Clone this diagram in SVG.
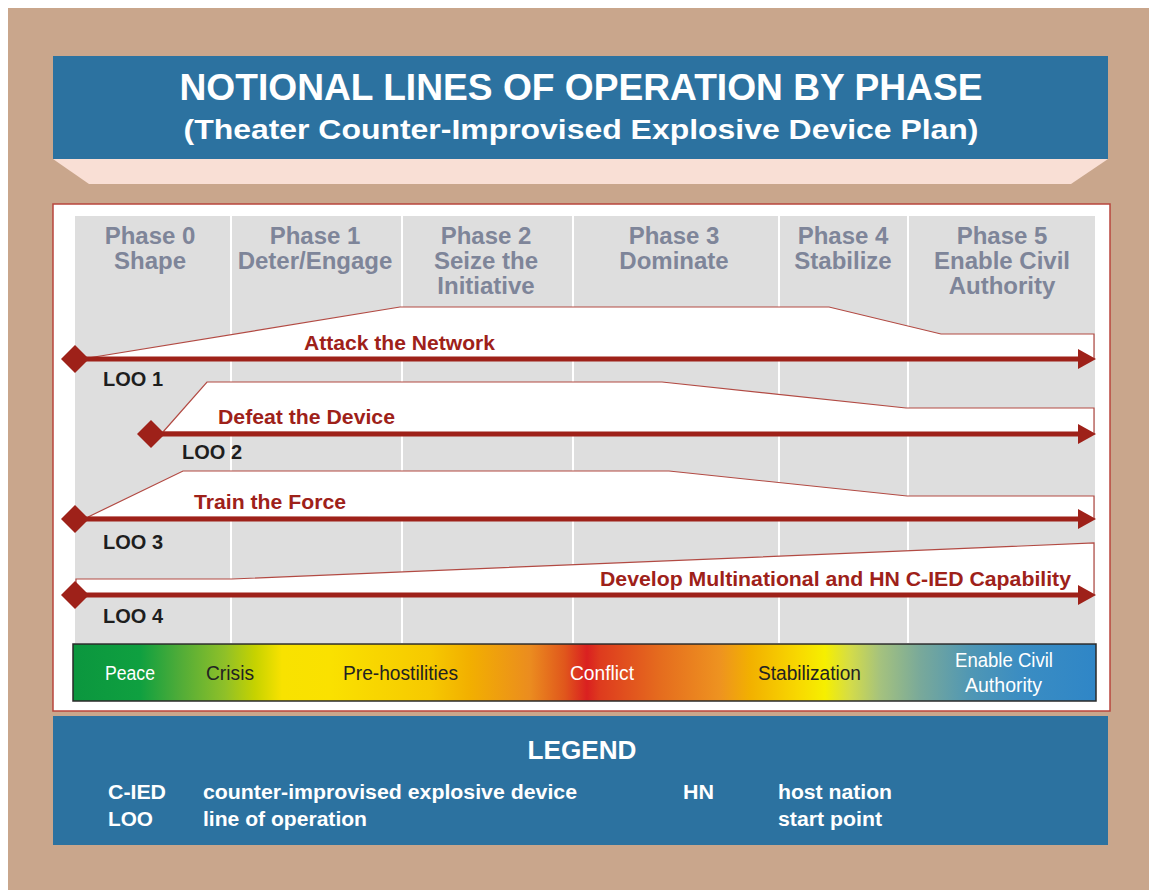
<svg xmlns="http://www.w3.org/2000/svg" width="1149" height="890" viewBox="0 0 1149 890">
<defs>
<style>
text{font-family:"Liberation Sans",Arial,sans-serif;}
.ttl{fill:#fff;font-weight:bold;text-anchor:middle;}
.ph{fill:#7E8599;font-weight:bold;font-size:24px;text-anchor:middle;}
.col{fill:#DEDEDE;}
.band{fill:#fff;stroke:#B24A43;stroke-width:1.2;}
.blab{fill:#9E2119;font-weight:bold;font-size:20.5px;}
.loo{fill:#1E1E1E;font-weight:bold;font-size:20px;}
.dia{fill:#9E2119;}
.ln{stroke:#9E2119;stroke-width:5;fill:none;}
.gl{font-size:20px;}
.lg{fill:#fff;font-weight:bold;font-size:20px;}
</style>
<marker id="arrow" viewBox="0 0 18 20" refX="4" refY="10" markerWidth="18" markerHeight="20" markerUnits="userSpaceOnUse" orient="auto">
<path d="M0,0 L18,10 L0,20 z" fill="#9E2119"/>
</marker>
<linearGradient id="grad" gradientUnits="userSpaceOnUse" x1="73" y1="0" x2="1096" y2="0">
<stop offset="0" stop-color="#0B963E"/>
<stop offset="0.0655" stop-color="#0FA040"/>
<stop offset="0.1046" stop-color="#50AC38"/>
<stop offset="0.1486" stop-color="#8FC028"/>
<stop offset="0.1779" stop-color="#C6D200"/>
<stop offset="0.2043" stop-color="#F8E200"/>
<stop offset="0.2512" stop-color="#FAE100"/>
<stop offset="0.3490" stop-color="#F6C900"/>
<stop offset="0.3881" stop-color="#F2AF00"/>
<stop offset="0.4467" stop-color="#EB8C1F"/>
<stop offset="0.4809" stop-color="#E0561C"/>
<stop offset="0.5024" stop-color="#DA2020"/>
<stop offset="0.5152" stop-color="#DE3B1E"/>
<stop offset="0.5738" stop-color="#E56C1E"/>
<stop offset="0.6325" stop-color="#EE9320"/>
<stop offset="0.6618" stop-color="#F2B000"/>
<stop offset="0.7107" stop-color="#F8DA00"/>
<stop offset="0.7351" stop-color="#F6EF00"/>
<stop offset="0.7595" stop-color="#D4DC48"/>
<stop offset="0.7889" stop-color="#A5C27E"/>
<stop offset="0.8280" stop-color="#79A99A"/>
<stop offset="0.8768" stop-color="#5097B4"/>
<stop offset="0.9257" stop-color="#3B8DC2"/>
<stop offset="1" stop-color="#2F86C7"/>
</linearGradient>
</defs>

<rect x="0" y="0" width="1149" height="890" fill="#fff"/>
<rect x="8" y="8" width="1141" height="882" fill="#C9A68C"/>

<g id="header">
<polygon points="53,159 1108,159 1071,184 89,184" fill="#F9DFD5"/>
<rect x="53" y="56" width="1055" height="103" fill="#2C72A0"/>
<text class="ttl" x="581" y="100" font-size="37" textLength="803" lengthAdjust="spacingAndGlyphs">NOTIONAL LINES OF OPERATION BY PHASE</text>
<text class="ttl" x="581" y="139" font-size="28" textLength="795" lengthAdjust="spacingAndGlyphs">(Theater Counter-Improvised Explosive Device Plan)</text>
</g>

<g id="panel">
<rect x="53" y="204" width="1057" height="507" fill="#fff" stroke="#B8453D" stroke-width="1.5"/>
</g>

<g id="phase0">
<rect class="col" x="75" y="216" width="155" height="427"/>
<text class="ph" x="150" y="244">Phase 0</text>
<text class="ph" x="150" y="269">Shape</text>
</g>
<g id="phase1">
<rect class="col" x="232" y="216" width="169" height="427"/>
<text class="ph" x="315" y="244">Phase 1</text>
<text class="ph" x="315" y="269">Deter/Engage</text>
</g>
<g id="phase2">
<rect class="col" x="403" y="216" width="169" height="427"/>
<text class="ph" x="486" y="244">Phase 2</text>
<text class="ph" x="486" y="269">Seize the</text>
<text class="ph" x="486" y="294">Initiative</text>
</g>
<g id="phase3">
<rect class="col" x="574" y="216" width="204" height="427"/>
<text class="ph" x="674" y="244">Phase 3</text>
<text class="ph" x="674" y="269">Dominate</text>
</g>
<g id="phase4">
<rect class="col" x="780" y="216" width="127" height="427"/>
<text class="ph" x="843" y="244">Phase 4</text>
<text class="ph" x="843" y="269">Stabilize</text>
</g>
<g id="phase5">
<rect class="col" x="909" y="216" width="186" height="427"/>
<text class="ph" x="1002" y="244">Phase 5</text>
<text class="ph" x="1002" y="269">Enable Civil</text>
<text class="ph" x="1002" y="294">Authority</text>
</g>

<g id="loo1">
<polygon class="band" points="88,358 400,307 829,307 941,334 1094,334 1094,359"/>
<text class="blab" x="304" y="350" textLength="191" lengthAdjust="spacingAndGlyphs">Attack the Network</text>
<text class="loo" x="103" y="386">LOO 1</text>
</g>
<g id="loo2">
<polygon class="band" points="163,432 207,382 662,382 906,408 1094,408 1094,434"/>
<text class="blab" x="218" y="424" textLength="177" lengthAdjust="spacingAndGlyphs">Defeat the Device</text>
<text class="loo" x="182" y="459">LOO 2</text>
</g>
<g id="loo3">
<polygon class="band" points="88,517 183,471 669,471 907,496 1094,496 1094,519"/>
<text class="blab" x="194" y="509" textLength="152" lengthAdjust="spacingAndGlyphs">Train the Force</text>
<text class="loo" x="103" y="549">LOO 3</text>
</g>
<g id="loo4">
<polygon class="band" points="76,579 232,579 1094,543 1094,595 76,595"/>
<text class="blab" x="600" y="586" textLength="471" lengthAdjust="spacingAndGlyphs">Develop Multinational and HN C-IED Capability</text>
<text class="loo" x="103" y="623">LOO 4</text>
</g>

<g id="connectors">
<line class="ln" x1="80" y1="359" x2="1082" y2="359" marker-end="url(#arrow)"/>
<polygon class="dia" points="75,345 89,359 75,373 61,359"/>
<line class="ln" x1="155" y1="434" x2="1082" y2="434" marker-end="url(#arrow)"/>
<polygon class="dia" points="151,420 165,434 151,448 137,434"/>
<line class="ln" x1="80" y1="519" x2="1082" y2="519" marker-end="url(#arrow)"/>
<polygon class="dia" points="75,505 89,519 75,533 61,519"/>
<line class="ln" x1="80" y1="595" x2="1082" y2="595" marker-end="url(#arrow)"/>
<polygon class="dia" points="75,581 89,595 75,609 61,595"/>
</g>

<g id="spectrum">
<rect x="73" y="644" width="1023" height="57" fill="url(#grad)" stroke="#2A2A2A" stroke-width="1.5"/>
<text class="gl" x="105" y="680" fill="#fff" textLength="50" lengthAdjust="spacingAndGlyphs">Peace</text>
<text class="gl" x="206" y="680" fill="#222" textLength="48" lengthAdjust="spacingAndGlyphs">Crisis</text>
<text class="gl" x="343" y="680" fill="#222" textLength="115" lengthAdjust="spacingAndGlyphs">Pre-hostilities</text>
<text class="gl" x="570" y="680" fill="#fff" textLength="64" lengthAdjust="spacingAndGlyphs">Conflict</text>
<text class="gl" x="758" y="680" fill="#222" textLength="103" lengthAdjust="spacingAndGlyphs">Stabilization</text>
<text class="gl" x="955" y="667" fill="#fff" textLength="98" lengthAdjust="spacingAndGlyphs">Enable Civil</text>
<text class="gl" x="965" y="692" fill="#fff" textLength="77" lengthAdjust="spacingAndGlyphs">Authority</text>
</g>

<g id="legend">
<rect x="53" y="716" width="1055" height="129" fill="#2C72A0"/>
<text class="ttl" x="582" y="759" font-size="25" textLength="109" lengthAdjust="spacingAndGlyphs">LEGEND</text>
<text class="lg" x="108" y="799" textLength="58" lengthAdjust="spacingAndGlyphs">C-IED</text>
<text class="lg" x="203" y="799" textLength="374" lengthAdjust="spacingAndGlyphs">counter-improvised explosive device</text>
<text class="lg" x="683" y="799" textLength="31" lengthAdjust="spacingAndGlyphs">HN</text>
<text class="lg" x="778" y="799" textLength="114" lengthAdjust="spacingAndGlyphs">host nation</text>
<text class="lg" x="108" y="826" textLength="45" lengthAdjust="spacingAndGlyphs">LOO</text>
<text class="lg" x="203" y="826" textLength="164" lengthAdjust="spacingAndGlyphs">line of operation</text>
<text class="lg" x="778" y="826" textLength="104" lengthAdjust="spacingAndGlyphs">start point</text>
</g>
</svg>
